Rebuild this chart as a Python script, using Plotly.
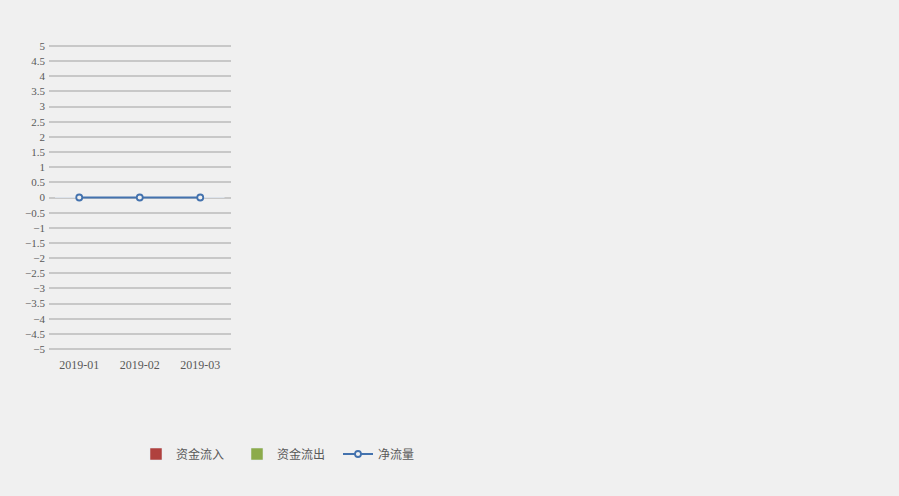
import plotly.graph_objects as go

months = ["2019-01", "2019-02", "2019-03"]
inflow = [0, 0, 0]
outflow = [0, 0, 0]
net = [0, 0, 0]

W, H = 899, 496
FONT = "Liberation Serif, Noto Sans CJK SC, serif"

fig = go.Figure()
fig.add_trace(go.Bar(name="资金流入", x=months, y=inflow, marker_color="#b0413e"))
fig.add_trace(go.Bar(name="资金流出", x=months, y=outflow, marker_color="#8cab4b"))
fig.add_trace(go.Scatter(name="净流量", x=months, y=net, mode="lines+markers",
                         line=dict(color="#4372ae", width=2),
                         marker=dict(symbol="circle", size=6, color="#f0f0f0",
                                     line=dict(width=1.8, color="#4372ae"))))

fig.update_layout(
    width=W, height=H,
    margin=dict(l=0, r=0, t=0, b=0),
    paper_bgcolor="#f0f0f0", plot_bgcolor="#f0f0f0",
    font=dict(family=FONT, size=11, color="#595959"),
    showlegend=True,
    legend=dict(orientation="h", x=136 / W, xanchor="left", y=1 - 454 / H, yanchor="middle",
                font=dict(size=12, color="#595959"), entrywidth=56, bgcolor="rgba(0,0,0,0)"),
    xaxis=dict(type="category", domain=[49 / W, 230.5 / W], showgrid=False, showline=False,
               zeroline=False, ticks="", tickfont=dict(size=12), automargin=False,
               ticklabelstandoff=5),
    yaxis=dict(domain=[1 - 350.5 / H, 1 - 44.5 / H], range=[-5.05, 5.05], dtick=0.5, tick0=0,
               showgrid=True, gridcolor="#c8c8c8", gridwidth=2, zeroline=False,
               showline=False, ticks="", tickfont=dict(size=11), automargin=False,
               ticklabelstandoff=3),
    barmode="group",
)

fig.write_html("out.html")
